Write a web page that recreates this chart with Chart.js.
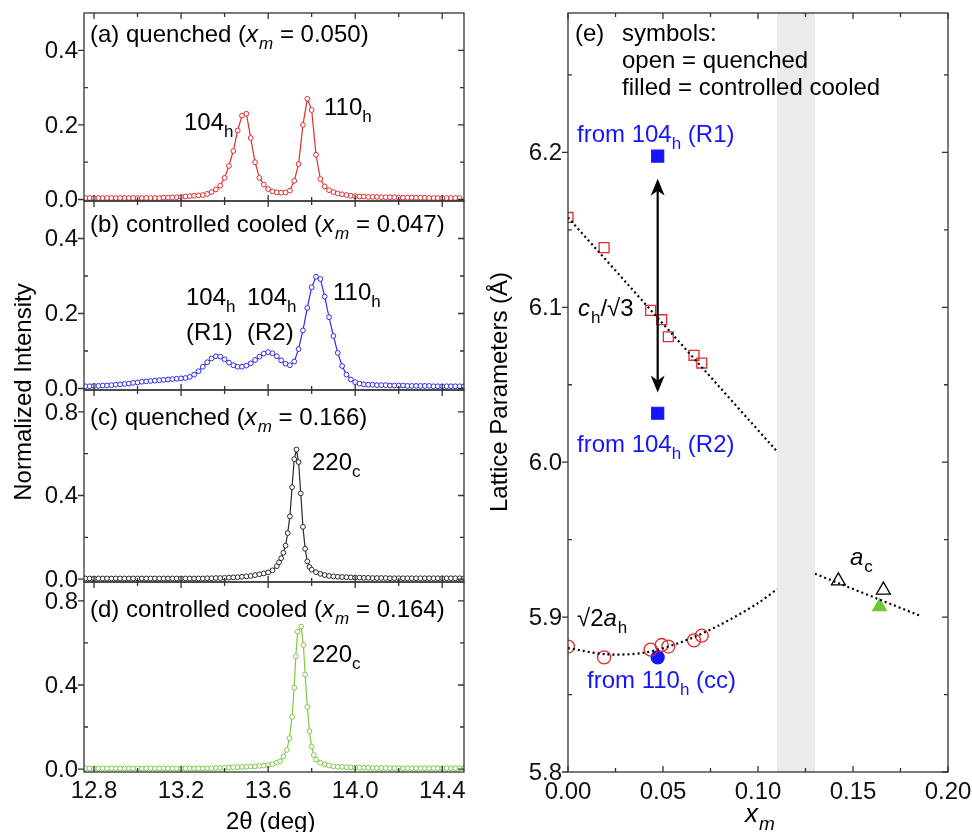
<!DOCTYPE html>
<html><head><meta charset="utf-8">
<script src="https://cdn.jsdelivr.net/npm/chart.js@4/dist/chart.umd.min.js"></script>
<style>
html,body{margin:0;padding:0;background:#fff;}
#wrap{position:relative;width:972px;height:832px;}
canvas{position:absolute;left:0;top:0;}
</style></head>
<body><div id="wrap">
<canvas id="ca" width="972" height="832"></canvas>
<canvas id="cb" width="972" height="832"></canvas>
<canvas id="cc" width="972" height="832"></canvas>
<canvas id="cd" width="972" height="832"></canvas>
<canvas id="ce" width="972" height="832"></canvas>
</div>
<script>
// ---------- data: 2θ grids (deg) ----------
const gridAB = [12.76,12.78,12.80,12.82,12.84,12.86,12.88,12.90,12.92,12.94,12.96,12.98,13.00,13.02,13.04,13.06,13.08,13.10,13.12,13.14,13.16,13.18,13.20,13.22,13.24,13.26,13.28,13.30,13.32,13.34,13.36,13.38,13.40,13.42,13.44,13.46,13.48,13.50,13.52,13.54,13.56,13.58,13.60,13.62,13.64,13.66,13.68,13.70,13.72,13.74,13.76,13.78,13.80,13.82,13.84,13.86,13.88,13.90,13.92,13.94,13.96,13.98,14.00,14.02,14.04,14.06,14.08,14.10,14.12,14.14,14.16,14.18,14.20,14.22,14.24,14.26,14.28,14.30,14.32,14.34,14.36,14.38,14.40,14.42,14.44,14.46,14.48,14.50];
const gridLeft = gridAB.slice(0,42);   // 12.76 .. 13.58
const gridRight = gridAB.slice(53);    // 13.82 .. 14.50
// (a) quenched xm=0.050
const intensityA = [.004,.004,.004,.004,.004,.004,.004,.004,.004,.004,.004,.004,.004,.004,.004,.004,.004,.004,.005,.005,.006,.006,.007,.008,.009,.010,.011,
 .012,.015,.020,.027,.037,.058,.090,.130,.185,.225,.230,.165,.100,.058,.040,.028,.022,.019,.018,.019,.024,.050,.095,.200,.270,.240,.120,.055,.035,.025,.020,.016,.014,.012,.010,.009,
 .008,.008,.007,.007,.007,.006,.006,.006,.006,.005,.005,.005,.005,.005,.005,.005,.004,.004,.004,.004,.004,.004,.004,.004];
// (b) controlled cooled xm=0.047
const intensityB = [.006,.006,.007,.007,.008,.008,.009,.010,.011,.012,.013,.015,.016,.018,.019,.020,.021,.022,.023,.024,.025,.026,.027,.028,
 .031,.037,.046,.058,.070,.080,.086,.085,.078,.069,.062,.058,.058,.061,.067,.076,.085,.093,.097,.094,.086,.075,.066,.062,.072,.105,.155,.215,.270,.298,.292,.245,.190,.140,.095,.060,.037,.024,.017,.013,.011,
 .010,.010,.009,.009,.009,.008,.008,.008,.008,.007,.007,.007,.007,.007,.007,.006,.006,.006,.006,.006,.006,.006,.006];
// (c) quenched xm=0.166
const cLeft = [.003,.003,.003,.003,.003,.003,.003,.003,.003,.003,.003,.003,.003,.003,.003,.003,.003,.003,.003,.003,.003,.003,.003,.003,.003,.003,.003,.003,.004,.004,.005,.005,.006,.007,.008,.009,.011,.013,.015,.019,.023,.027];
const cPeakTheta = [13.60,13.62,13.64,13.65,13.66,13.67,13.68,13.69,13.70,13.71,13.72,13.73,13.74,13.75,13.76,13.77,13.78,13.79,13.80];
const cPeak = [.032,.042,.062,.080,.100,.126,.160,.220,.300,.440,.574,.620,.560,.410,.250,.145,.085,.058,.045];
const cRight = [.033,.025,.019,.015,.013,.011,.010,.009,.008,.007,.007,.006,.006,.005,.005,.005,.005,.004,.004,.004,.004,.004,.004,.004,.004,.004,.004,.004,.004,.004,.004,.004,.004,.004,.004];
// (d) controlled cooled xm=0.164
const dLeft = [.003,.003,.003,.003,.003,.003,.003,.003,.003,.003,.003,.003,.003,.003,.003,.003,.003,.003,.003,.003,.003,.003,.003,.003,.003,.003,.003,.003,.004,.004,.005,.005,.006,.007,.008,.009,.010,.011,.012,.013,.015,.017];
const dPeakTheta = [13.60,13.62,13.64,13.655,13.67,13.686,13.698,13.71,13.72,13.727,13.736,13.752,13.762,13.77,13.78,13.79,13.80,13.81];
const dPeak = [.019,.023,.030,.037,.060,.091,.147,.248,.387,.536,.654,.678,.590,.450,.296,.180,.107,.067];
const dRight = [.045,.030,.022,.017,.013,.011,.010,.009,.008,.007,.007,.006,.006,.005,.005,.005,.005,.004,.004,.004,.004,.004,.004,.004,.004,.004,.004,.004,.004,.004,.004,.004,.004,.004,.004];
// (e) lattice parameters
const xmQ = [0.000,0.019,0.0435,0.0493,0.0528,0.0663,0.0704];
const chQ = [6.158,6.1385,6.098,6.092,6.081,6.069,6.064];
const ahQ = [5.881,5.874,5.879,5.882,5.881,5.885,5.888];
const xmCC = [0.0472];
const chR1 = [6.1976];
const chR2 = [6.0316];
const ahCC = [5.874];
const xmCubQ = [0.1423,0.166];
const acQ = [5.9234,5.9174];
const xmCubCC = [0.164];
const acCC = [5.9067];
const guideChX = [0.000,0.110], guideChY = [6.158,6.007];
const guideAhX = [0.000,0.02,0.04,0.06,0.08,0.10,0.11], guideAhY = [5.880,5.876,5.877,5.884,5.895,5.909,5.918];
const guideAcX = [0.130,0.185], guideAcY = [5.928,5.901];
// ticks
const thetaMajor=[12.8,13.2,13.6,14.0,14.4], thetaMinor=[13.0,13.4,13.8,14.2];
const abMajor=[0,0.2,0.4], abMinor=[0.1,0.3];
const cdMajor=[0,0.4,0.8], cdMinor=[0.2,0.6];
const xmMajor=[0,0.05,0.10,0.15,0.20], xmMinor=[0.025,0.075,0.125,0.175];
const latMajor=[5.8,5.9,6.0,6.1,6.2], latMinor=[5.85,5.95,6.05,6.15,6.25];

const zip=(xs,ys)=>xs.map((x,i)=>({x,y:ys[i]}));
const FONT='"Liberation Sans", Arial, sans-serif';
const FS=24;

function rich(ctx,x,y,segs,color,size){
  size=size||FS; let cx=x;
  ctx.save(); ctx.fillStyle=color; ctx.textBaseline='alphabetic'; ctx.textAlign='left';
  for(const [t,st] of segs){
    const sub=st.includes('s'), it=st.includes('i');
    const fs=sub?Math.round(size*0.72):size;
    ctx.font=(it?'italic ':'')+fs+'px '+FONT;
    ctx.fillText(t,cx,y+(sub?size*0.3:0));
    cx+=ctx.measureText(t).width+(it&&!sub?1:0);
  }
  ctx.restore();
}

const framePlugin={id:'frame',
  beforeDatasetsDraw(chart,a,o){
    const ctx=chart.ctx, ca=chart.chartArea, xs=chart.scales.x;
    if(o.band){ctx.save();ctx.fillStyle='#ebebeb';
      const l=xs.getPixelForValue(o.band[0]), r=xs.getPixelForValue(o.band[1]);
      ctx.fillRect(l,ca.top,r-l,ca.bottom-ca.top);ctx.restore();}
  },
  afterDraw(chart,a,o){
    const ctx=chart.ctx, ca=chart.chartArea, xs=chart.scales.x, ys=chart.scales.y;
    ctx.save(); ctx.strokeStyle='#333'; ctx.lineWidth=1.3;
    ctx.strokeRect(ca.left,ca.top,ca.right-ca.left,ca.bottom-ca.top);
    ctx.beginPath();
    const tx=(vals,len)=>vals.forEach(v=>{const p=xs.getPixelForValue(v);
      ctx.moveTo(p,ca.bottom);ctx.lineTo(p,ca.bottom-len);ctx.moveTo(p,ca.top);ctx.lineTo(p,ca.top+len);});
    const ty=(vals,len,out)=>vals.forEach(v=>{const p=ys.getPixelForValue(v);
      ctx.moveTo(ca.left,p);ctx.lineTo(ca.left+(out?-len:len),p);ctx.moveTo(ca.right,p);ctx.lineTo(ca.right-len,p);});
    tx(o.xMaj,6);tx(o.xMin,4);ty(o.yMaj,6,true);ty(o.yMin,4,false);
    ctx.stroke();
    // tick labels
    ctx.fillStyle='#111'; ctx.font=FS+'px '+FONT;
    ctx.textAlign='right'; ctx.textBaseline='middle';
    o.yMaj.forEach(v=>ctx.fillText(v.toFixed(1),ca.left-o.ypad,ys.getPixelForValue(v)+1));
    if(o.xdec!=null){ctx.textAlign='center';ctx.textBaseline='top';
      o.xMaj.forEach(v=>ctx.fillText(v.toFixed(o.xdec),xs.getPixelForValue(v),ca.bottom+o.xpad));}
    if(o.arrow){ // double arrow in data coordinates
      const x=xs.getPixelForValue(o.arrow.x), y1=ys.getPixelForValue(o.arrow.y1), y2=ys.getPixelForValue(o.arrow.y2);
      ctx.strokeStyle='#000';ctx.fillStyle='#000';ctx.lineWidth=2.2;
      ctx.beginPath();ctx.moveTo(x,y1+8);ctx.lineTo(x,y2-8);ctx.stroke();
      ctx.beginPath();ctx.moveTo(x,y1);ctx.lineTo(x-7,y1+17);ctx.lineTo(x,y1+12);ctx.lineTo(x+7,y1+17);ctx.closePath();ctx.fill();
      ctx.beginPath();ctx.moveTo(x,y2);ctx.lineTo(x-7,y2-17);ctx.lineTo(x,y2-12);ctx.lineTo(x+7,y2-17);ctx.closePath();ctx.fill();
    }
    (o.texts||[]).forEach(t=>rich(ctx,t.x,t.y,t.s,t.c||'#000',t.size));
    (o.vtexts||[]).forEach(t=>{ctx.save();ctx.translate(t.x,t.y);ctx.rotate(-Math.PI/2);
      ctx.font=FS+'px '+FONT;ctx.fillStyle='#000';ctx.textAlign='center';ctx.textBaseline='middle';ctx.fillText(t.t,0,0);ctx.restore();});
    ctx.restore();
  }};
Chart.register(framePlugin);

function mk(id,datasets,cfg){
  const ax=(r)=>({type:'linear',min:r[0],max:r[1],display:true,grid:{display:false,drawTicks:false},border:{display:false},ticks:{display:false}});
  const x=ax(cfg.x), y=ax(cfg.y);
  x.afterFit=s=>{s.height=0;}; y.afterFit=s=>{s.width=0;};
  return new Chart(document.getElementById(id),{type:'scatter',data:{datasets},
    options:{responsive:false,animation:false,events:[],
      layout:{padding:cfg.pad},
      plugins:{legend:{display:false},tooltip:{enabled:false},frame:cfg.frame},
      scales:{x,y}}});
}
function spectrum(data,color){
  return {data,showLine:true,borderColor:color,borderWidth:1.2,pointRadius:2.4,pointBorderWidth:1,
    pointBackgroundColor:'#fff',pointBorderColor:color,pointStyle:'circle',tension:0};
}
const L=84, R=972-464, thetaRange=[12.754,14.50];
const red='rgb(222,45,45)', blue='rgb(45,45,235)', dark='#2a2a2a', green='rgb(125,200,70)';
const sub=(base,s,st)=>[[base,st||''],[s,'s']];

mk('ca',[spectrum(zip(gridAB,intensityA),red)],{pad:{left:L,right:R,top:13,bottom:832-201},x:thetaRange,y:[-0.004,0.5],
  frame:{xMaj:thetaMajor,xMin:thetaMinor,yMaj:abMajor,yMin:abMinor,ypad:6,
    texts:[{x:90,y:42,s:[['(a) quenched (',''],['x','i'],['m','is'],[' = 0.050)','']]},
           {x:184,y:130,s:sub('104','h')},{x:324,y:115,s:sub('110','h')}]}});
mk('cb',[spectrum(zip(gridAB,intensityB),blue)],{pad:{left:L,right:R,top:201,bottom:832-390},x:thetaRange,y:[-0.004,0.5],
  frame:{xMaj:thetaMajor,xMin:thetaMinor,yMaj:abMajor,yMin:abMinor,ypad:6,
    texts:[{x:90,y:232,s:[['(b) controlled cooled (',''],['x','i'],['m','is'],[' = 0.047)','']]},
           {x:186,y:305,s:sub('104','h')},{x:186,y:340,s:[['(R1)','']]},
           {x:247,y:305,s:sub('104','h')},{x:247,y:340,s:[['(R2)','']]},
           {x:333,y:300,s:sub('110','h')}]}});
mk('cc',[spectrum(zip(gridLeft,cLeft).concat(zip(cPeakTheta,cPeak),zip(gridRight,cRight)),dark)],{pad:{left:L,right:R,top:390,bottom:832-582},x:thetaRange,y:[-0.014,0.905],
  frame:{xMaj:thetaMajor,xMin:thetaMinor,yMaj:cdMajor,yMin:cdMinor,ypad:6,
    texts:[{x:90,y:425,s:[['(c) quenched (',''],['x','i'],['m','is'],[' = 0.166)','']]},
           {x:312,y:470,s:sub('220','c')}]}});
mk('cd',[spectrum(zip(gridLeft,dLeft).concat(zip(dPeakTheta,dPeak),zip(gridRight,dRight)),green)],{pad:{left:L,right:R,top:582,bottom:832-772},x:thetaRange,y:[-0.014,0.89],
  frame:{xMaj:thetaMajor,xMin:thetaMinor,yMaj:cdMajor,yMin:cdMinor,ypad:6,xdec:1,xpad:7,
    texts:[{x:90,y:617,s:[['(d) controlled cooled (',''],['x','i'],['m','is'],[' = 0.164)','']]},
           {x:312,y:662,s:sub('220','c')},
           {x:226,y:829,s:[['2θ (deg)','']]}],
    vtexts:[{x:24,y:392,t:'Normalized Intensity'}]}});

const dotted=(xs,ys)=>({data:zip(xs,ys),showLine:true,borderColor:'#000',borderWidth:2.2,borderDash:[2,3],pointRadius:0,tension:0.3});
const mark=(xs,ys,style,r,fill,stroke,bw)=>({data:zip(xs,ys),showLine:false,pointStyle:style,pointRadius:r,
  pointBackgroundColor:fill,pointBorderColor:stroke,pointBorderWidth:bw||1.2});
mk('ce',[
  dotted(guideChX,guideChY),dotted(guideAhX,guideAhY),dotted(guideAcX,guideAcY),
  mark(xmQ,chQ,'rect',7,'rgba(0,0,0,0)',red,1.3),
  mark(xmQ,ahQ,'circle',6.5,'rgba(0,0,0,0)',red,1.3),
  mark(xmCC,chR1,'rect',8.5,'rgb(20,20,255)','rgb(20,20,255)'),
  mark(xmCC,chR2,'rect',8.5,'rgb(20,20,255)','rgb(20,20,255)'),
  mark(xmCC,ahCC,'circle',6.5,'rgb(20,20,255)','rgb(20,20,255)'),
  mark(xmCubQ,acQ,'triangle',8,'rgba(0,0,0,0)','#000',1.3),
  mark(xmCubCC,acCC,'triangle',8,'rgb(110,200,50)','rgb(110,200,50)')
],{pad:{left:568,right:972-948,top:13,bottom:832-772},x:[0,0.2],y:[5.8,6.29],
  frame:{xMaj:xmMajor,xMin:xmMinor,yMaj:latMajor,yMin:latMinor,band:[0.11,0.13],ypad:6,xdec:2,xpad:8,
    arrow:{x:0.0472,y1:6.183,y2:6.045},
    texts:[{x:575,y:41,s:[['(e)','']]},{x:622,y:41,s:[['symbols:','']]},
           {x:622,y:68,s:[['open = quenched','']]},{x:622,y:95,s:[['filled = controlled cooled','']]},
           {x:577,y:142,s:[['from 104',''],['h','s'],[' (R1)','']],c:'rgb(20,20,255)'},
           {x:577,y:452,s:[['from 104',''],['h','s'],[' (R2)','']],c:'rgb(20,20,255)'},
           {x:587,y:688,s:[['from 110',''],['h','s'],[' (cc)','']],c:'rgb(20,20,255)'},
           {x:578,y:316,s:[['c','i'],['h','s'],['/√3','']]},
           {x:577,y:626,s:[['√2',''],['a','i'],['h','s']]},
           {x:850,y:565,s:[['a','i'],['c','s']]},
           {x:745,y:822,s:[['x','i'],['m','is']],size:26}],
    vtexts:[{x:500,y:392,t:'Lattice Parameters (Å)'}]}});
</script></body></html>
